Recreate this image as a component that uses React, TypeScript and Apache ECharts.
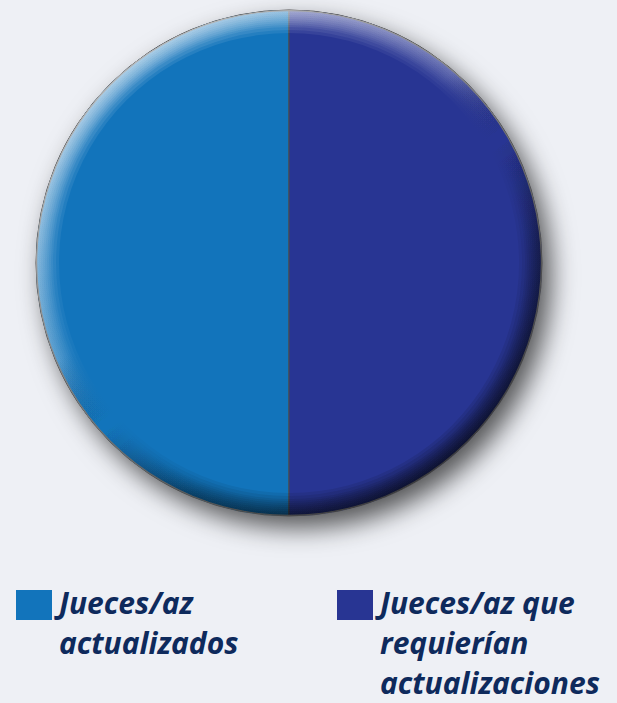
import React, { useEffect, useRef } from "react";
import * as echarts from "echarts";

const categories = ["Jueces/az actualizados", "Jueces/az que requierían actualizaciones"];
const legendLines = [["Jueces/az", "actualizados"], ["Jueces/az que", "requierían", "actualizaciones"]];
const values = [50, 50];
const colors = ["#1274bb", "#283593"];

const CX = 289;
const CY = 263;
const R = 253;
const legendX = [16, 337];

export default function App() {
  const ref = useRef<HTMLDivElement>(null);
  useEffect(() => {
    document.body.style.margin = "0";
    document.body.style.background = "#eef0f5";
    const chart = echarts.init(ref.current!, null, { renderer: "svg" });
    const edgeGradient = (a: number) =>
      new echarts.graphic.LinearGradient(
        100, 60, 420, 500,
        [
          { offset: 0, color: `rgba(255,255,255,${a * 1.35})` },
          { offset: 0.4, color: `rgba(255,255,255,${a * 0.45})` },
          { offset: 0.55, color: "rgba(0,0,0,0)" },
          { offset: 0.75, color: `rgba(0,0,0,${a * 0.8})` },
          { offset: 1, color: `rgba(0,0,0,${a * 1.4})` },
        ],
        true
      );
    const ringInners = [230, 233, 236, 238, 240, 242, 244, 246, 248, 250];
    const rings = ringInners.map((inner, i) => ({
      type: "pie",
      silent: true,
      z: 5 + i,
      center: [CX, CY],
      radius: [inner, R - 0.5],
      label: { show: false },
      labelLine: { show: false },
      emphasis: { disabled: true },
      tooltip: { show: false },
      itemStyle: { color: edgeGradient(0.075), borderWidth: 0 },
      data: [{ value: 1, name: "edge" + i }],
    }));
    const LINE_H = 40;
    const legendGraphics = categories.map((_, i) => ({
      type: "group",
      x: legendX[i],
      y: 589,
      children: [
        {
          type: "rect",
          shape: { x: 0, y: 1, width: 36, height: 30 },
          style: { fill: colors[i] },
        },
        ...legendLines[i].map((line, j) => ({
          type: "text",
          x: 43,
          y: 13 + j * LINE_H,
          style: {
            text: line,
            fontFamily: "Open Sans",
            fontStyle: "italic",
            fontWeight: 700,
            fontSize: 30,
            fill: "#0e2a5c",
            verticalAlign: "middle",
          },
        })),
      ],
    }));
    chart.setOption({
      animation: false,
      backgroundColor: "#eef0f5",
      legend: { show: false, data: categories },
      graphic: legendGraphics,
      series: [
        {
          type: "pie",
          silent: true,
          z: 1,
          center: [CX, CY],
          radius: R,
          label: { show: false },
          labelLine: { show: false },
          emphasis: { disabled: true },
          itemStyle: {
            color: "#555",
            shadowBlur: 26,
            shadowOffsetX: 9,
            shadowOffsetY: 12,
            shadowColor: "rgba(0,0,0,0.65)",
          },
          data: [{ value: 1, name: "shadow" }],
        },
        {
          type: "pie",
          name: "Jueces",
          z: 3,
          center: [CX, CY],
          radius: R,
          clockwise: false,
          startAngle: 90,
          label: { show: false },
          labelLine: { show: false },
          emphasis: { disabled: true },
          itemStyle: { borderColor: "#4a4a4a", borderWidth: 1 },
          data: categories.map((name, i) => ({
            name,
            value: values[i],
            itemStyle: { color: colors[i] },
          })),
        },
        ...rings,
        {
          type: "pie",
          silent: true,
          z: 20,
          center: [CX, CY],
          radius: [R - 1.2, R],
          label: { show: false },
          labelLine: { show: false },
          emphasis: { disabled: true },
          itemStyle: {
            color: new echarts.graphic.LinearGradient(
              100, 60, 420, 500,
              [
                { offset: 0, color: "#bdbdbd" },
                { offset: 0.5, color: "#7a7a7a" },
                { offset: 1, color: "#3a3a3a" },
              ],
              true
            ),
            borderWidth: 0,
          },
          data: [{ value: 1, name: "rim" }],
        },
      ],
    });
    return () => chart.dispose();
  }, []);
  return <div ref={ref} style={{ width: 617, height: 703, background: "#eef0f5" }} />;
}
